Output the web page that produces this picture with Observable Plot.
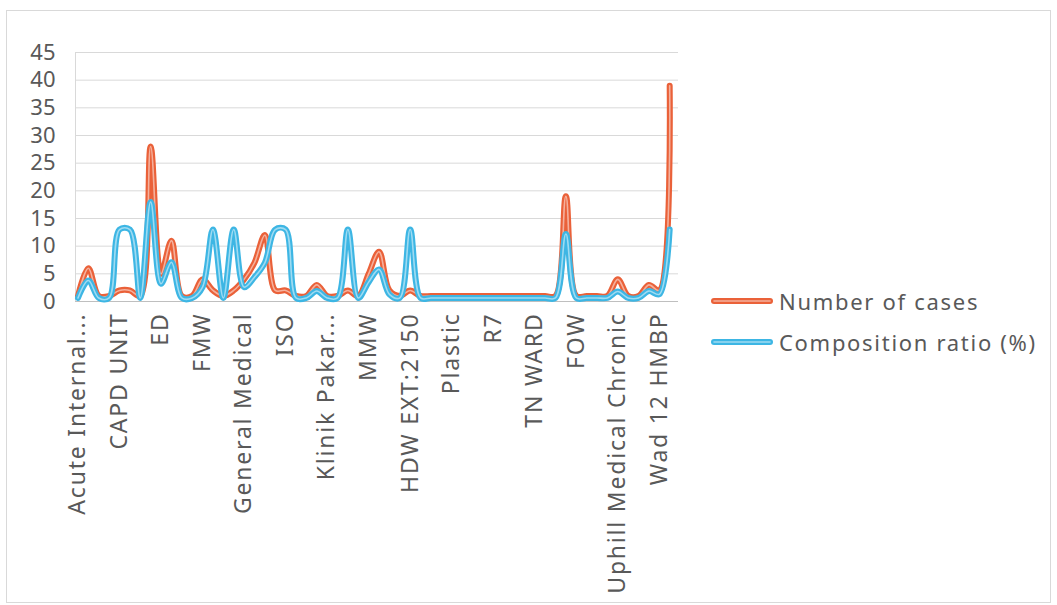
<!DOCTYPE html>
<html>
<head>
<meta charset="utf-8">
<script src="https://cdn.jsdelivr.net/npm/d3@7"></script>
<script src="https://cdn.jsdelivr.net/npm/@observablehq/plot@0.6"></script>
<style>
  body { margin: 0; background: #fff; }
  #chart { position: relative; width: 1057px; height: 605px; font-family: "Noto Sans", sans-serif; }
  #frame { position: absolute; left: 6px; top: 10px; width: 1045px; height: 593px; border: 1px solid #d9d9d9; box-sizing: border-box; pointer-events: none; }
  #legend { position: absolute; left: 709px; top: 0; }
  .item { position: absolute; left: 0; height: 34px; display: flex; align-items: center; white-space: nowrap;
          font-size: 22px; letter-spacing: 1.7px; color: #595959; }
  .item svg { display: block; margin-right: 4px; }
</style>
</head>
<body>
<div id="chart">
  <div id="frame"></div>
  <div id="legend"></div>
</div>
<script>
// Wards along the x axis; only every fourth ward name is printed under the axis.
const tickLabels = [
  "Acute Internal...", "CAPD UNIT", "ED", "FMW", "General Medical", "ISO",
  "Klinik Pakar...", "MMW", "HDW EXT:2150", "Plastic", "R7", "TN WARD",
  "FOW", "Uphill Medical Chronic", "Wad 12 HMBP"
];
const labelStep = 4;

// Number of cases per ward (58 wards)
const cases = [
  1, 6, 1, 1, 2, 2, 1, 28, 5, 11,
  1, 1, 4, 2, 1, 2, 4, 7, 12, 2,
  2, 1, 1, 3, 1, 1, 2, 1, 5, 9,
  2, 1, 2, 1, 1, 1, 1, 1, 1, 1,
  1, 1, 1, 1, 1, 1, 1, 19, 1, 1,
  1, 1, 4, 1, 1, 3, 2, 39
];

// Composition ratio (%) per ward
const ratio = [
  0.64, 3.8, 0.64, 0.64, 13, 13, 0.64, 18, 3.2, 7.1,
  0.64, 0.64, 2.6, 13, 0.64, 13, 2.6, 4.4, 7, 13,
  13, 0.64, 0.64, 1.9, 0.64, 0.64, 13, 0.64, 3.5, 5.8,
  1.3, 0.64, 13, 0.64, 0.64, 0.64, 0.64, 0.64, 0.64, 0.64,
  0.64, 0.64, 0.64, 0.64, 0.64, 0.64, 0.64, 12.2, 0.64, 0.64,
  0.64, 0.64, 1.8, 0.64, 0.64, 1.9, 1.3, 13
];

const yTicks = [0, 5, 10, 15, 20, 25, 30, 35, 40, 45];

const series = [
  { name: "Number of cases", values: cases, color: "#ea6139" },
  { name: "Composition ratio (%)", values: ratio, color: "#3db6e4" }
];

const xDomain = [-0.24, 57.85];

// Excel-style "double" line: a thick coloured stroke with a pale core.
function doubleLine(data, color) {
  const common = { x: "i", y: "v", curve: "catmull-rom", strokeLinecap: "round", strokeLinejoin: "round" };
  return [
    Plot.line(data, { ...common, stroke: color, strokeWidth: 6 }),
    Plot.line(data, { ...common, stroke: "#ffffff", strokeOpacity: 0.5, strokeWidth: 1.6 })
  ];
}

const rowsOf = s => s.values.map((v, i) => ({ i, v }));

const chart = Plot.plot({
  width: 1057,
  height: 605,
  marginLeft: 75,
  marginRight: 379,
  marginTop: 52,
  marginBottom: 304,
  x: { type: "linear", domain: xDomain, label: null },
  y: { domain: [0, 45], label: null },
  style: { fontFamily: '"Noto Sans", sans-serif', fontSize: "22px", color: "#595959", background: "transparent", overflow: "visible" },
  marks: [
    Plot.ruleY(yTicks.slice(1), { stroke: "#d9d9d9", strokeOpacity: 1 }),
    Plot.ruleX([xDomain[0]], { stroke: "#d9d9d9", strokeOpacity: 1 }),
    Plot.ruleY([0], { stroke: "#bfbfbf", strokeOpacity: 1 }),
    ...series.flatMap(s => doubleLine(rowsOf(s), s.color)),
    Plot.axisY({ ticks: yTicks, tickSize: 0, tickPadding: 20, label: null }),
    Plot.axisX({
      ticks: tickLabels.map((_, k) => k * labelStep),
      tickFormat: i => tickLabels[Math.round(i / labelStep)],
      tickSize: 0, tickPadding: 11, tickRotate: -90, label: null
    })
  ]
});

d3.select(chart).selectAll('g[aria-label="x-axis tick label"]')
  .style("font-size", "23px").style("letter-spacing", "1.8px");
d3.select("#chart").insert(() => chart, "#frame");

// Legend to the right of the plot area
const legend = d3.select("#legend");
series.forEach((s, k) => {
  const item = legend.append("div").attr("class", "item").style("top", (284 + k * 41) + "px");
  const sw = item.append("svg").attr("width", 66).attr("height", 12);
  sw.append("line").attr("x1", 5).attr("x2", 61).attr("y1", 6).attr("y2", 6)
    .attr("stroke", s.color).attr("stroke-width", 6).attr("stroke-linecap", "round");
  sw.append("line").attr("x1", 5).attr("x2", 61).attr("y1", 6).attr("y2", 6)
    .attr("stroke", "#fff").attr("stroke-opacity", 0.5).attr("stroke-width", 1.6).attr("stroke-linecap", "round");
  item.append("span").text(s.name);
});
</script>
</body>
</html>
